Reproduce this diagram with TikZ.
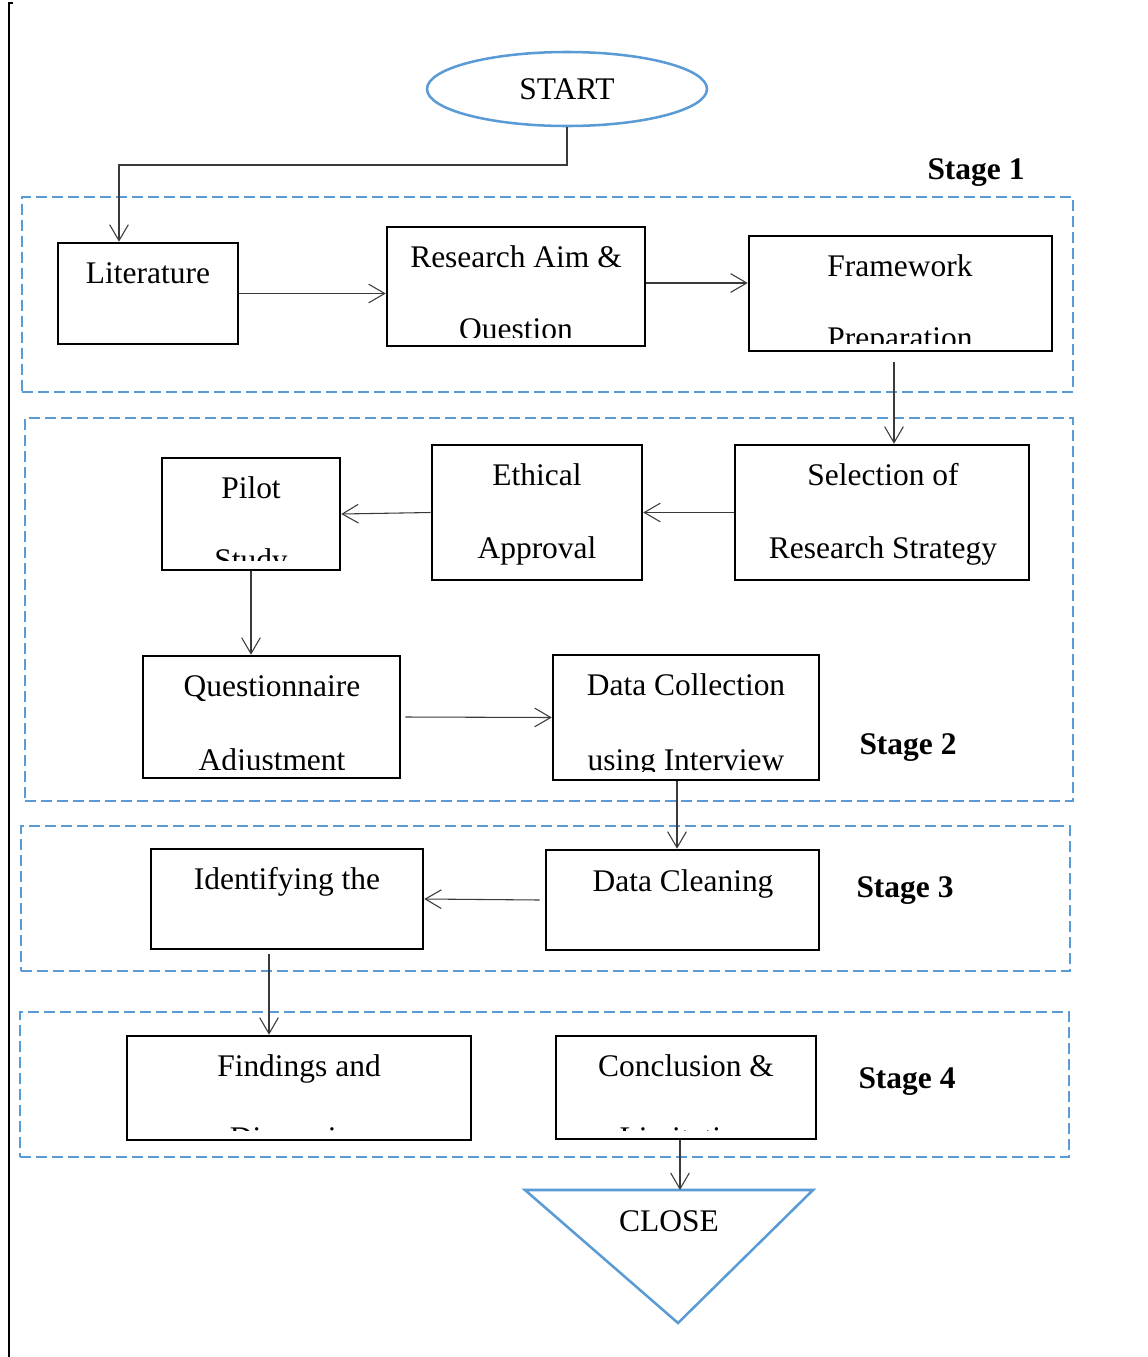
\documentclass[tikz,border=0pt]{standalone}
\usepackage{fontspec}
\setmainfont{Liberation Serif}
\usepackage{tikz}
\usetikzlibrary{arrows.meta,positioning,shapes.geometric,fit,calc}
\definecolor{stageblue}{HTML}{5B9BD5}
\definecolor{arrowgrey}{HTML}{3A3A3A}
\newcommand{\flowfont}{\fontsize{23.6}{28}\selectfont}

\begin{document}
\begin{tikzpicture}[
  x=0.75pt,y=-0.75pt,
  stagebox/.style={draw=stageblue,line width=1.1pt,dash pattern=on 8pt off 4pt,inner sep=0pt},
  stepbox/.style={draw=black,line width=1.9pt,inner sep=0pt},
  txt/.style={anchor=base,inner sep=0pt,font=\flowfont},
  stagelbl/.style={anchor=base,inner sep=0pt,font=\flowfont\bfseries},
  startshape/.style={ellipse,draw=stageblue,line width=1.9pt,minimum width=210pt,
                     minimum height=55.5pt,inner sep=0pt,font=\flowfont},
  endshape/.style={draw=stageblue,line width=1.9pt,line join=miter},
  arr/.style={-{Straight Barb[length=12pt,width=14pt]},line width=0.8pt,arrowgrey}
]
\useasboundingbox (0,0) rectangle (1147,1357);

% Page margin line
\draw[line width=1.8pt] (9,1357) -- (9,3) -- (13,3);

% Stage frames
\node[stagebox,fit={(22,197)(1073,392)}] (st1) {};
\node[stagebox,fit={(25,418)(1073,801)}] (st2) {};
\node[stagebox,fit={(21,826)(1070,971)}] (st3) {};
\node[stagebox,fit={(20,1012)(1069,1157)}] (st4) {};
\node[stagelbl] (st1lbl) at (976,179) {Stage 1};
\node[stagelbl] (st2lbl) at (908,754) {Stage 2};
\node[stagelbl] (st3lbl) at (905,897) {Stage 3};
\node[stagelbl] (st4lbl) at (907,1088) {Stage 4};

% Start
\node[startshape] (start) at (567,89) {START};

% Stage 1
\node[stepbox,fit={(58,243)(238,344)}] (lit) {};
\node[txt] (lit1) at (148,283) {Literature};

\node[stepbox,fit={(387,227)(645,346)}] (aim) {};
\begin{scope}
  \clip (aim.north west) rectangle ($(aim.south east)+(0,-10)$);
  \node[txt] (aim1) at (516,267) {Research Aim \&};
  \node[txt] (aim2) at (516,339) {Question};
\end{scope}

\node[stepbox,fit={(749,236)(1052,351)}] (fw) {};
\begin{scope}
  \clip (fw.north west) rectangle ($(fw.south east)+(0,-9)$);
  \node[txt] (fw1) at (900,276) {Framework};
  \node[txt] (fw2) at (900,348) {Preparation};
\end{scope}

% Stage 2
\node[stepbox,fit={(735,445)(1029,580)}] (sel) {};
\node[txt] (sel1) at (883,485) {Selection of};
\node[txt] (sel2) at (883,558) {Research Strategy};

\node[stepbox,fit={(432,445)(642,580)}] (eth) {};
\node[txt] (eth1) at (537,485) {Ethical};
\node[txt] (eth2) at (537,558) {Approval};

\node[stepbox,fit={(162,458)(340,570)}] (pilot) {};
\begin{scope}
  \clip (pilot.north west) rectangle ($(pilot.south east)+(0,-11)$);
  \node[txt] (pilot1) at (251,498) {Pilot};
  \node[txt] (pilot2) at (251,570) {Study};
\end{scope}

\node[stepbox,fit={(143,656)(400,778)}] (quest) {};
\begin{scope}
  \clip (quest.north west) rectangle ($(quest.south east)+(0,-10)$);
  \node[txt] (quest1) at (272,696) {Questionnaire};
  \node[txt] (quest2) at (272,770) {Adjustment};
\end{scope}

\node[stepbox,fit={(553,655)(819,780)}] (dc) {};
\begin{scope}
  \clip (dc.north west) rectangle ($(dc.south east)+(0,-10)$);
  \node[txt] (dc1) at (686,695) {Data Collection};
  \node[txt] (dc2) at (686,770) {using Interview};
\end{scope}

% Stage 3
\node[stepbox,fit={(546,850)(819,950)}] (clean) {};
\node[txt] (clean1) at (683,891) {Data Cleaning};

\node[stepbox,fit={(151,849)(423,949)}] (ident) {};
\node[txt] (ident1) at (287,889) {Identifying the};

% Stage 4
\node[stepbox,fit={(127,1036)(471,1140)}] (find) {};
\begin{scope}
  \clip (find.north west) rectangle ($(find.south east)+(0,-11)$);
  \node[txt] (find1) at (299,1076) {Findings and};
  \node[txt] (find2) at (299,1148) {Discussion};
\end{scope}

\node[stepbox,fit={(556,1036)(816,1139)}] (conc) {};
\begin{scope}
  \clip (conc.north west) rectangle ($(conc.south east)+(0,-10)$);
  \node[txt] (conc1) at (686,1076) {Conclusion \&};
  \node[txt] (conc2) at (686,1148) {Limitation};
\end{scope}

% Close
\coordinate (closeL) at (525,1190);
\coordinate (closeR) at (813,1190);
\coordinate (closeB) at (678,1323);
\draw[endshape] (closeL) -- (closeR) -- (closeB) -- cycle;
\node[txt] (close) at (669,1231) {CLOSE};

% Connections
\draw[arr] (start.south) -- (start.south |- 0,165) -| (119,0 |- lit.north);
\draw[arr] (lit.east) -- (lit.east -| aim.west);
\draw[arr] (aim.east |- 0,283) -- (fw.west |- 0,283);
\draw[arr] ($(894,0 |- fw.south)+(0,10)$) -- (894,0 |- sel.north);
\draw[arr] (sel.west) -- (sel.west -| eth.east);
\draw[arr] (eth.west) -- (pilot.east);
\draw[arr] (pilot.south) -- (pilot.south |- quest.north);
\draw[arr] ($(quest.east)+(4,0)$) -- (dc.west);
\draw[arr] (677,0 |- dc.south) -- (677,0 |- clean.north);
\draw[arr] ($(clean.west)+(-5,0)$) -- (ident.east);
\draw[arr] ($(269,0 |- ident.south)+(0,4)$) -- (269,0 |- find.north);
\draw[arr] (680,0 |- conc.south) -- (680,0 |- closeL);

\end{tikzpicture}
\end{document}
